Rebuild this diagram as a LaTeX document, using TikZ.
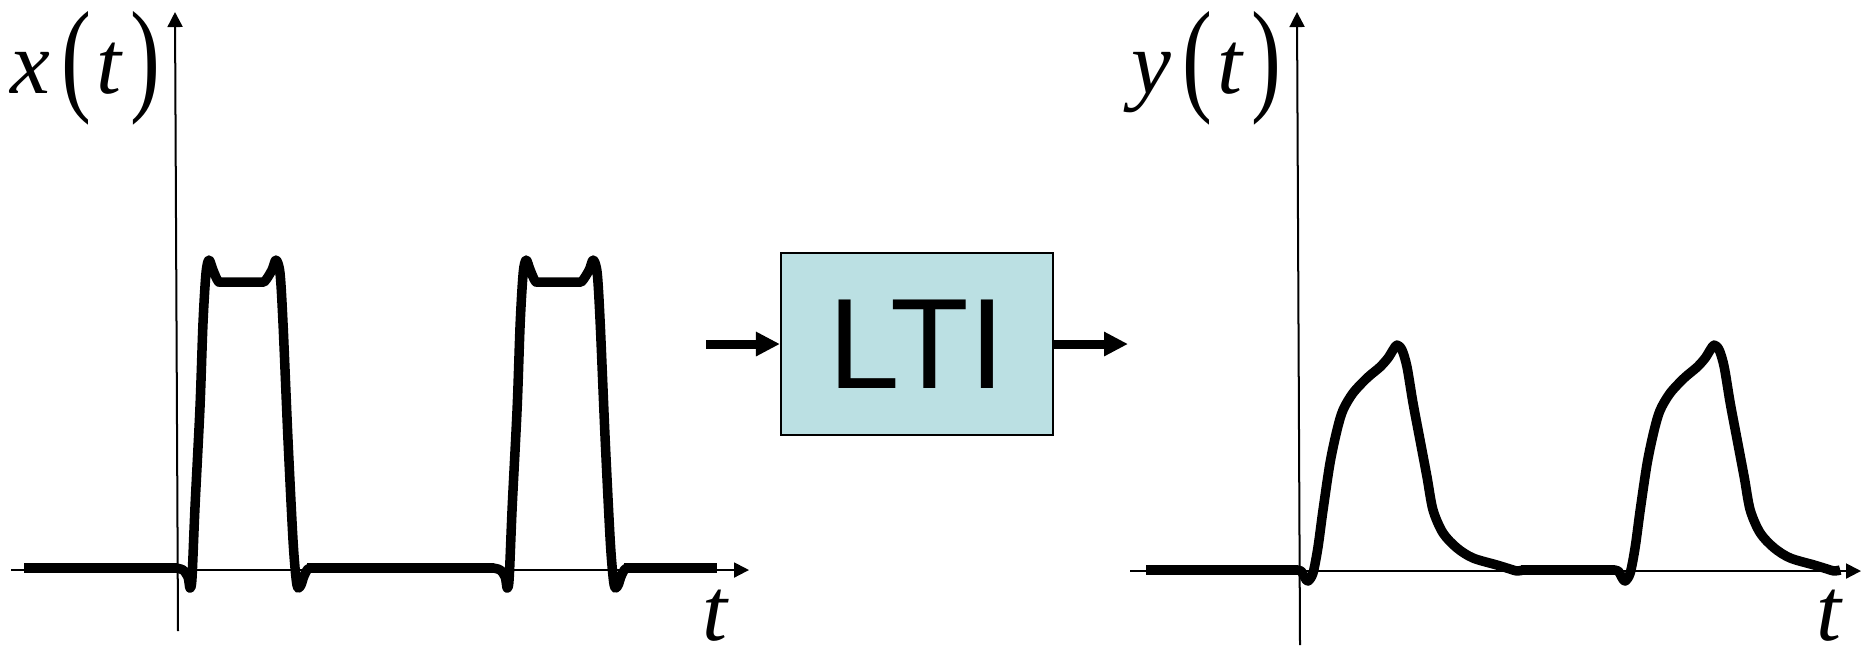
\documentclass[tikz,border=0pt]{standalone}
\usepackage{fontspec}
\setmainfont{Liberation Serif}
\newfontfamily\ltifont{Liberation Sans}
\usetikzlibrary{arrows.meta}
\definecolor{ltiblue}{RGB}{187,224,227}
\begin{document}
\begin{tikzpicture}[x=0.01cm,y=-0.01cm,
  axis/.style={line width=0.02cm,-{Triangle[length=0.15cm,width=0.15cm]}},
  sig/.style={line width=0.095cm,line join=round},
  flow/.style={line width=0.09cm,-{Triangle[length=0.24cm,width=0.23cm]}},
  lbl/.style={inner sep=0pt,font=\fontsize{25.5pt}{30pt}\selectfont},
  ltibox/.style={draw,line width=0.02cm,fill=ltiblue,minimum width=2.72cm,minimum height=1.81cm,inner sep=0pt,font=\ltifont\fontsize{36.6pt}{40pt}\selectfont}]
\useasboundingbox (0,0) rectangle (1861,647);
% left axes
\coordinate (xl0) at (11,570);
\coordinate (xl1) at (749,570);
\coordinate (yl0) at (178,631);
\coordinate (yl1) at (175,12);
\draw[axis] (xl0) -- (xl1);
\draw[axis] (yl0) -- (yl1);
% right axes
\coordinate (xr0) at (1130,571);
\coordinate (xr1) at (1861,571);
\coordinate (yr0) at (1300,645);
\coordinate (yr1) at (1297,12);
\draw[axis] (xr0) -- (xr1);
\draw[axis] (yr0) -- (yr1);
% labels
\node[lbl,anchor=base west] (xlab) at (10,93) {\textit{x}\hspace{0.11cm}\raisebox{-0.05cm}{\scalebox{1}[1.4]{(}}\hspace{0.05cm}\textit{t}\hspace{0.07cm}\raisebox{-0.05cm}{\scalebox{1}[1.4]{)}}};
\node[lbl,anchor=base west] (ylab) at (1131,93) {\textit{y}\hspace{0.11cm}\raisebox{-0.05cm}{\scalebox{1}[1.4]{(}}\hspace{0.05cm}\textit{t}\hspace{0.07cm}\raisebox{-0.05cm}{\scalebox{1}[1.4]{)}}};
\node[lbl,anchor=base] (tl) at (716,640) {\textit{t}};
\node[lbl,anchor=base] (tr) at (1830,640) {\textit{t}};
% LTI block
\node[ltibox] (lti) at (917,344) {LTI};
\coordinate (in) at (706,344);
\coordinate (out) at (1128,344);
\draw[flow] (in) -- (lti.west);
\draw[flow] (lti.east) -- (out);
% left signal baselines
\draw[sig] (24,568) -- (177,568);
\draw[sig] (307,568) -- (494,568);
\draw[sig] (624,568) -- (717,568);
% left pulses
\foreach \s in {0,3.17}{
\begin{scope}[xshift=\s cm]
\draw[sig] plot[smooth,tension=0.5] coordinates {(176,568) (183,570) (188,577) (190,588) (192,578) (195,507) (200,407) (203,323) (206,273) (209,260) (213,270) (218,281) (223,282) (260,282) (265,281) (272,270) (276,260) (280,273) (283,323) (288,440) (293,540) (296,578) (298,588) (301,585) (304,576) (308,569) (314,568)};
\end{scope}}
% right signal baselines
\draw[sig] (1146,570) -- (1298,570);
\draw[sig] (1521,570) -- (1615,570);
% right pulses
\foreach \s in {0,3.17}{
\begin{scope}[xshift=\s cm]
\draw[sig] plot[smooth,tension=0.5] coordinates {(1296,570) (1301,571) (1305,578) (1308,581) (1313,573) (1318,547) (1323,510) (1330,463) (1337,430) (1343,410) (1353,393) (1367,378) (1380,367) (1388,358) (1393,350) (1397,345) (1402,350) (1407,367) (1413,403) (1420,440) (1427,477) (1433,510) (1443,533) (1457,548) (1473,558) (1497,565) (1510,569) (1517,571) (1523,570)};
\end{scope}}
\end{tikzpicture}
\end{document}
